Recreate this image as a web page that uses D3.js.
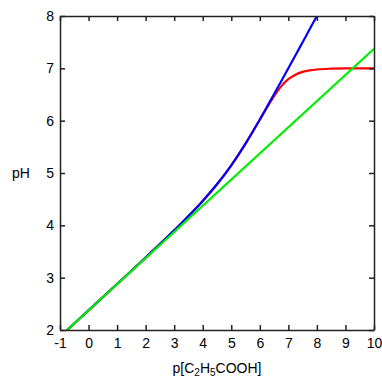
<!DOCTYPE html>
<meta charset="utf-8">
<style>
  body { margin: 0; background: #fff; }
  .axis text { font-family: "Liberation Sans", Arial, sans-serif; font-size: 14px; fill: #000; }
  .axis path, .axis line { stroke: #222; stroke-width: 1.5px; }
  .label { font-family: "Liberation Sans", Arial, sans-serif; font-size: 14px; fill: #000; }
  .curve { fill: none; stroke-width: 2.2px; stroke-linejoin: round; }
</style>
<body>
<script src="https://d3js.org/d3.v7.min.js"></script>
<script>

  // p[C2H5COOH] values and pH
  var pcExact = [-1, -0.5, 0, 1, 2, 3, 4, 4.5, 5, 5.5, 6, 6.25, 6.5, 6.75, 7, 7.25, 7.5, 7.75, 8, 8.25];
  var phExact = [1.875, 2.125, 2.375, 2.878, 3.384, 3.904, 4.466, 4.784, 5.147, 5.562, 6.023, 6.264, 6.508, 6.754, 7.002, 7.25, 7.5, 7.75, 8.0, 8.25];

  var pcWater = [-1, -0.5, 0, 1, 2, 3, 4, 4.5, 5, 5.5, 6, 6.25, 6.5, 6.75, 7, 7.25, 7.5, 7.75, 8, 8.5, 9, 9.5, 10];
  var phWater = [1.875, 2.125, 2.375, 2.878, 3.384, 3.904, 4.466, 4.784, 5.147, 5.562, 6.018, 6.249, 6.469, 6.656, 6.793, 6.879, 6.932, 6.961, 6.978, 6.993, 6.998, 6.999, 7.0];

  var pcApprox = [-1, 10];
  var phApprox = [1.875, 7.375];

  var xTicks = [-1, 0, 1, 2, 3, 4, 5, 6, 7, 8, 9, 10];
  var yTicks = [2, 3, 4, 5, 6, 7, 8];

  var width = 382,
    height = 378,
    margin = { top: 16, right: 8, bottom: 48, left: 60 };

  var x = d3.scaleLinear()
    .domain([-1, 10])
    .range([margin.left, width - margin.right]);

  var y = d3.scaleLinear()
    .domain([2, 8])
    .range([height - margin.bottom, margin.top]);

  var fmt = function (d) { return String(d); };

  var svg = d3.select("body").append("svg")
    .attr("width", width)
    .attr("height", height);

  svg.append("clipPath")
    .attr("id", "clip")
    .append("rect")
    .attr("x", x(-1))
    .attr("y", y(8))
    .attr("width", x(10) - x(-1))
    .attr("height", y(2) - y(8));

  var line = d3.line()
    .x(function (d) { return x(d[0]); })
    .y(function (d) { return y(d[1]); })
    .curve(d3.curveMonotoneX);

  var g = svg.append("g").attr("clip-path", "url(#clip)");

  g.append("path")
    .datum(d3.zip(pcWater, phWater))
    .attr("class", "curve")
    .attr("stroke", "#ff0000")
    .attr("d", line);

  g.append("path")
    .datum(d3.zip(pcExact, phExact))
    .attr("class", "curve")
    .attr("stroke", "#0000ff")
    .attr("d", line);

  g.append("path")
    .datum(d3.zip(pcApprox, phApprox))
    .attr("class", "curve")
    .attr("stroke", "#00ee00")
    .attr("d", line);

  // axes, ticks pointing inward on all four sides
  svg.append("g")
    .attr("class", "axis")
    .attr("transform", "translate(0," + y(2) + ")")
    .call(d3.axisBottom(x).tickValues(xTicks).tickSizeInner(-5).tickSizeOuter(0).tickPadding(8).tickFormat(fmt));

  svg.append("g")
    .attr("class", "axis")
    .attr("transform", "translate(0," + y(8) + ")")
    .call(d3.axisTop(x).tickValues(xTicks).tickSizeInner(-5).tickSizeOuter(0).tickFormat(""));

  svg.append("g")
    .attr("class", "axis")
    .attr("transform", "translate(" + x(-1) + ",0)")
    .call(d3.axisLeft(y).tickValues(yTicks).tickSizeInner(-5).tickSizeOuter(0).tickPadding(6).tickFormat(fmt));

  svg.append("g")
    .attr("class", "axis")
    .attr("transform", "translate(" + x(10) + ",0)")
    .call(d3.axisRight(y).tickValues(yTicks).tickSizeInner(-5).tickSizeOuter(0).tickFormat(""));

  svg.append("text")
    .attr("class", "label")
    .attr("x", 12)
    .attr("y", y(5) + 5)
    .text("pH");

  var xl = svg.append("text")
    .attr("class", "label")
    .attr("x", (x(-1) + x(10)) / 2)
    .attr("y", 373)
    .attr("text-anchor", "middle");
  xl.append("tspan").text("p[C");
  xl.append("tspan").attr("font-size", "10px").attr("dy", 3).text("2");
  xl.append("tspan").attr("dy", -3).text("H");
  xl.append("tspan").attr("font-size", "10px").attr("dy", 3).text("5");
  xl.append("tspan").attr("dy", -3).text("COOH]");

</script>
</body>
